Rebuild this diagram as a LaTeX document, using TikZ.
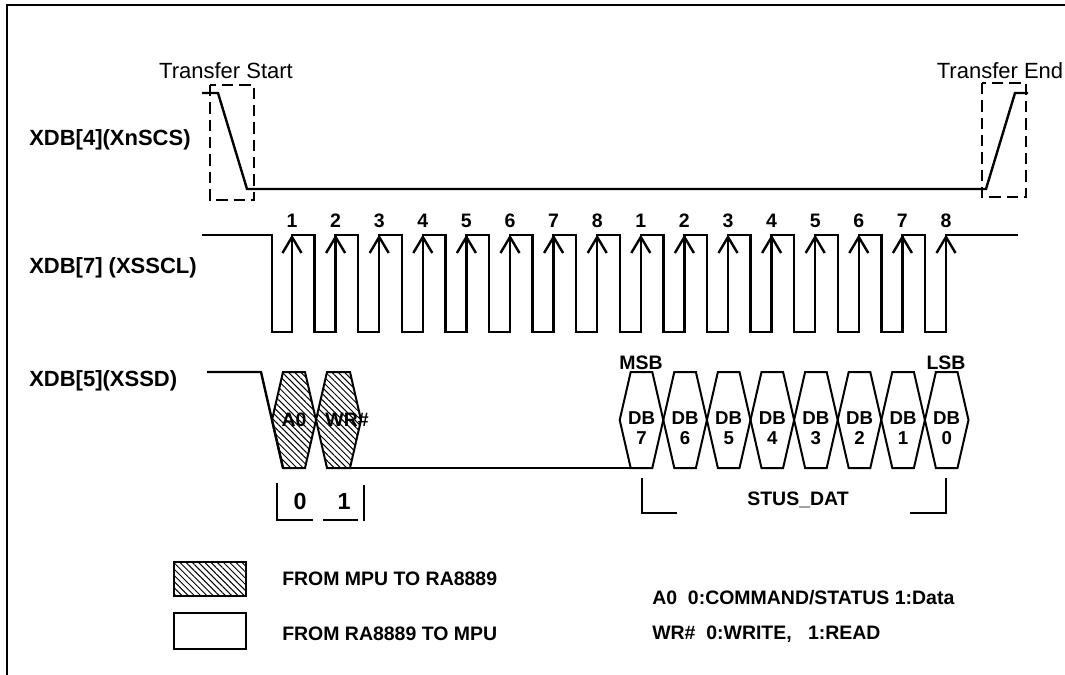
\documentclass[tikz,border=0pt]{standalone}
\usepackage{fontspec}
\setmainfont{Liberation Sans}
\usetikzlibrary{patterns.meta}
\tikzset{
 sig/.style={line width=1.8pt, line join=miter},
 hexs/.style={line width=1.5pt, line join=miter},
 dbox/.style={line width=1.7pt, dash pattern=on 8.5pt off 4.5pt},
 frame/.style={line width=1.8pt},
 lbl/.style={font=\fontsize{16.5}{19}\selectfont\bfseries, inner sep=0pt, anchor=west},
 ttl/.style={font=\fontsize{16.5}{19}\selectfont, inner sep=0pt},
 sml/.style={font=\fontsize{14.6}{17}\selectfont\bfseries, inner sep=0pt},
 dbl/.style={font=\fontsize{14}{15}\selectfont\bfseries, inner sep=0pt, align=center},
 big/.style={font=\fontsize{17.5}{19}\selectfont\bfseries, inner sep=0pt},
 hatch/.style={pattern={Lines[angle=-45, distance=3.3pt, line width=0.75pt]}},
}
\begin{document}
\begin{tikzpicture}[x=0.75pt,y=-0.75pt]
\useasboundingbox (0,0) rectangle (1065,675);
% frame
\draw[frame] (7,675) -- (7,5) -- (1065,5);
% labels
\node[lbl] (l4) at (29,140) {XDB[4](XnSCS)};
\node[lbl] (l7) at (29,268) {XDB[7] (XSSCL)};
\node[lbl] (l5) at (29,381) {XDB[5](XSSD)};
\node[ttl] (ts) at (226,71) {Transfer Start};
\node[ttl] (te) at (1000,71) {Transfer End};
% XnSCS
\draw[sig] (202,93) -- (218,93) -- (247,189) -- (986,189) -- (1015,93) -- (1028,93);
\draw[dbox] (210,85) rectangle (254,200);
\draw[dbox] (982,83) rectangle (1026,197);
% XSSCL clock
\draw[sig] (202,235) -- (272,235) -- (272,332)
  foreach \i in {0,...,14} { -- ({292+43.6*\i},332) -- ({292+43.6*\i},235) -- ({314.5+43.6*\i},235) -- ({314.5+43.6*\i},332) }
  -- (946,332) -- (946,235) -- (1018,235);
\foreach \i [evaluate=\i as \x using 292+43.6*\i, evaluate=\i as \n using {int(mod(\i,8)+1)}] in {0,...,15} {
  \node[sml] (n\i) at (\x,221) {\n};
  \draw[sig] ({\x-9.5},253) -- (\x,237) -- ({\x+9.5},253);
}
% XSSD
\draw[sig] (207,372) -- (261,372) -- (283,468);
\draw[sig] (350,468) -- (642,468);
\draw[hexs, hatch] (272,420) -- (283,372) -- (305,372) -- (316,420) -- (305,468) -- (283,468) -- cycle;
\draw[hexs, hatch] (316,420) -- (327,372) -- (350,372) -- (361,420) -- (350,468) -- (327,468) -- cycle;
\node[sml] (a0) at (294,420) {A0};
\node[sml] (wr) at (347,420) {WR\#};
\foreach \j [evaluate=\j as \a using 619.7+43.6*\j, evaluate=\j as \b using 663.3+43.6*\j, evaluate=\j as \d using {int(7-\j)}] in {0,...,7} {
  \draw[hexs] (\a,420) -- ({\a+11},372) -- ({\b-11},372) -- (\b,420) -- ({\b-11},468) -- ({\a+11},468) -- cycle;
  \node[dbl] (db\d) at ({(\a+\b)/2},428) {DB\\\d};
}
\node[sml] (msb) at (641,363) {MSB};
\node[sml] (lsb) at (946,363) {LSB};
% brackets
\draw[sig] (277,483) -- (277,520) -- (313,520);
\draw[sig] (323,520) -- (358,520);
\draw[sig] (364,485) -- (364,521);
\node[big] (b0) at (300,501) {0};
\node[big] (b1) at (344,501) {1};
\draw[sig] (642,478) -- (642,513) -- (677,513);
\draw[sig] (910,513) -- (946,513) -- (946,478);
\node[sml] (sd) at (798,500) {STUS\_DAT};
% legend
\draw[sig, hatch] (174,562) rectangle (246,596);
\draw[sig] (174,613) rectangle (246,649);
\node[sml, anchor=west] (lg1) at (282,579) {FROM MPU TO RA8889};
\node[sml, anchor=west] (lg2) at (282,634) {FROM RA8889 TO MPU};
\node[sml, anchor=west] (lg3) at (652,598) {A0\ \ 0:COMMAND/STATUS 1:Data};
\node[sml, anchor=west] (lg4) at (652,634) {WR\#\ \ 0:WRITE,\ \ \ 1:READ};
\end{tikzpicture}
\end{document}
